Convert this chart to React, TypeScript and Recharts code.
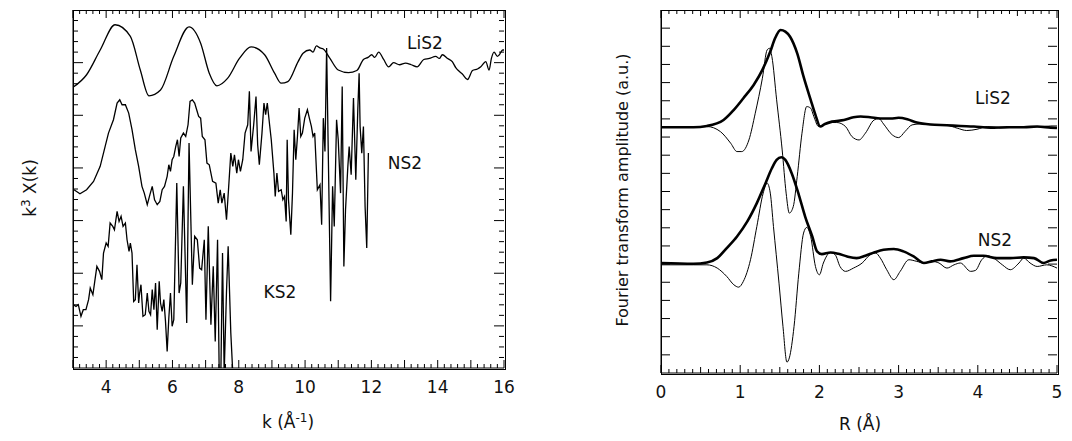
import { LineChart, Line, XAxis, YAxis } from 'recharts';

const FONT = '"DejaVu Sans", Verdana, sans-serif';

// left panel: k^3 chi(k), offset curves (y in arbitrary units)
const kLabels = [4, 6, 8, 10, 12, 14, 16];
const chiMajor = [4, 9, 14, 19, 24, 29];

const lis2Chi: [number, number][] = [
  [3.01, 26.68], [3.41, 27.85], [3.82, 30.2], [4.27, 32.6], [4.73, 31.5], [5.03, 28.3], [5.29, 25.85],
  [5.64, 26.4], [6.04, 29.6], [6.5, 32.4], [6.85, 30.85], [7.11, 28.0], [7.34, 26.8], [7.66, 27.5],
  [8.02, 29.4], [8.37, 30.5], [8.78, 29.75], [9.08, 28.0], [9.28, 27.05], [9.48, 27.2], [9.79, 29.1],
  [9.94, 29.9], [10.14, 30.2], [10.24, 30.0], [10.34, 30.6], [10.45, 30.4], [10.55, 30.3], [10.75, 29.4],
  [11.0, 28.3], [11.31, 28.05], [11.56, 28.25], [11.76, 29.3], [11.9, 29.5], [12.01, 29.75], [12.1, 29.5],
  [12.22, 30.0], [12.37, 29.3], [12.52, 28.6], [12.67, 29.0], [12.85, 28.8], [13.03, 28.95], [13.2, 28.8],
  [13.38, 28.6], [13.58, 29.3], [13.75, 29.4], [13.94, 29.6], [14.05, 29.4], [14.14, 29.75], [14.3, 29.4],
  [14.44, 29.1], [14.55, 28.5], [14.64, 28.2], [14.75, 27.9], [14.9, 27.4], [15.05, 28.25], [15.2, 28.4],
  [15.3, 28.6], [15.45, 29.1], [15.55, 28.3], [15.62, 29.4], [15.7, 30.0], [15.8, 29.6], [15.86, 29.75],
  [15.96, 30.2], [16.0, 30.2],
];

const ns2Chi: [number, number][] = [
  [3.03, 16.93], [3.21, 16.55], [3.41, 16.93], [3.62, 17.72], [3.82, 19.15], [3.97, 21.04], [4.07, 22.31],
  [4.22, 23.58], [4.33, 25.16], [4.41, 25.47], [4.48, 25.0], [4.58, 25.0], [4.68, 24.21], [4.78, 22.63],
  [4.88, 20.73], [4.98, 19.15], [5.08, 17.25], [5.15, 16.61], [5.24, 15.51], [5.32, 16.46], [5.39, 17.25],
  [5.46, 15.98], [5.54, 15.51], [5.62, 15.82], [5.69, 16.93], [5.76, 17.25], [5.84, 18.2], [5.89, 19.3],
  [5.94, 18.67], [5.99, 19.78], [6.04, 20.09], [6.1, 21.04], [6.15, 21.68], [6.2, 20.09], [6.25, 21.84],
  [6.33, 22.31], [6.4, 21.99], [6.47, 23.1], [6.53, 25.32], [6.6, 25.47], [6.67, 25.16], [6.73, 24.53],
  [6.79, 23.89], [6.85, 23.73], [6.9, 21.99], [6.98, 21.68], [7.04, 19.46], [7.11, 19.3], [7.21, 17.72],
  [7.31, 17.56], [7.38, 15.66], [7.44, 16.93], [7.49, 15.66], [7.56, 16.61], [7.63, 14.08], [7.69, 16.93],
  [7.76, 20.41], [7.82, 19.15], [7.87, 20.25], [7.94, 18.51], [7.99, 19.78], [8.05, 18.67], [8.12, 19.78],
  [8.19, 22.31], [8.27, 23.1], [8.32, 26.27], [8.37, 20.57], [8.45, 23.1], [8.52, 25.79], [8.57, 21.2],
  [8.62, 19.3], [8.7, 22.31], [8.76, 25.16], [8.81, 24.05], [8.86, 25.16], [8.93, 23.1], [8.98, 21.68],
  [9.06, 18.51], [9.1, 16.3], [9.15, 18.51], [9.2, 16.77], [9.28, 16.93], [9.33, 15.98], [9.38, 16.3],
  [9.43, 13.92], [9.46, 21.68], [9.5, 15.98], [9.57, 12.66], [9.62, 16.61], [9.67, 22.63], [9.72, 19.78],
  [9.77, 21.99], [9.82, 24.68], [9.87, 21.99], [9.92, 22.31], [9.99, 23.73], [10.07, 24.53], [10.14, 23.58],
  [10.19, 22.94], [10.24, 21.99], [10.29, 22.31], [10.37, 16.93], [10.45, 17.41], [10.5, 13.61],
  [10.55, 23.73], [10.6, 20.57], [10.65, 30.38], [10.77, 6.33], [10.83, 17.25], [10.88, 13.45],
  [10.95, 23.58], [11.0, 21.68], [11.07, 16.61], [11.12, 26.74], [11.17, 9.65], [11.22, 15.03],
  [11.29, 19.15], [11.33, 21.04], [11.39, 18.35], [11.46, 25.63], [11.53, 17.88], [11.59, 24.53],
  [11.63, 28.0], [11.66, 22.94], [11.71, 20.41], [11.76, 22.94], [11.81, 15.35], [11.86, 11.39], [11.91, 20.41],
];

const ks2Chi: [number, number][] = [
  [3.01, 6.01], [3.09, 5.85], [3.16, 6.01], [3.24, 4.91], [3.31, 5.54], [3.39, 5.54], [3.47, 6.49],
  [3.52, 7.59], [3.6, 6.96], [3.67, 8.54], [3.72, 9.65], [3.8, 9.18], [3.87, 8.39], [3.92, 10.92],
  [4.0, 11.87], [4.06, 11.55], [4.12, 13.77], [4.2, 13.45], [4.25, 13.13], [4.33, 14.87], [4.39, 13.92],
  [4.45, 14.4], [4.51, 13.45], [4.58, 13.77], [4.63, 12.18], [4.69, 11.08], [4.73, 11.87], [4.78, 10.92],
  [4.83, 6.33], [4.88, 6.49], [4.93, 9.81], [4.98, 6.17], [5.01, 7.12], [5.05, 7.91], [5.11, 4.91],
  [5.18, 5.06], [5.24, 7.12], [5.29, 5.38], [5.34, 5.06], [5.39, 7.44], [5.44, 5.54], [5.49, 8.07],
  [5.54, 3.64], [5.6, 8.23], [5.64, 6.17], [5.69, 5.38], [5.74, 6.49], [5.79, 4.43], [5.84, 1.58],
  [5.89, 4.75], [5.94, 7.12], [5.99, 3.96], [6.04, 4.59], [6.13, 17.56], [6.2, 7.12], [6.25, 8.07],
  [6.33, 17.25], [6.43, 4.27], [6.5, 21.36], [6.6, 7.91], [6.67, 12.5], [6.75, 12.18], [6.82, 9.49],
  [6.88, 9.34], [6.96, 12.18], [7.01, 4.59], [7.08, 13.45], [7.16, 4.11], [7.23, 9.65], [7.29, 2.53],
  [7.36, 12.18], [7.41, -0.5], [7.46, -0.5], [7.51, 10.92], [7.56, -0.5], [7.63, 7.28], [7.68, 11.55],
  [7.76, 3.32], [7.82, -0.5],
];

// right panel: Fourier transform, magnitude (thick) and imaginary part (thin)
const rLabels = [0, 1, 2, 3, 4, 5];

const lis2Mag: [number, number][] = [
  [0, 13.54], [0.41, 13.54], [0.58, 13.61], [0.79, 13.94], [0.92, 14.5], [1.04, 15.14], [1.17, 15.87],
  [1.28, 16.7], [1.38, 17.71], [1.44, 18.44], [1.51, 18.9], [1.57, 18.81], [1.63, 18.53], [1.72, 17.61],
  [1.8, 16.33], [1.89, 15.05], [1.95, 14.22], [2.01, 13.58], [2.07, 13.72], [2.16, 13.85], [2.31, 13.94],
  [2.43, 14.09], [2.52, 14.13], [2.64, 14.09], [2.77, 14.02], [2.9, 14.02], [3.0, 14.06], [3.11, 13.98],
  [3.23, 13.8], [3.4, 13.69], [3.61, 13.65], [3.78, 13.61], [3.95, 13.58], [4.16, 13.52], [4.37, 13.54],
  [4.58, 13.54], [4.75, 13.58], [4.92, 13.52], [5.0, 13.5],
];

const lis2Im: [number, number][] = [
  [0, 13.54], [0.41, 13.54], [0.58, 13.58], [0.75, 13.3], [0.88, 12.66], [0.96, 12.2], [1.02, 12.2],
  [1.11, 12.84], [1.19, 14.31], [1.28, 16.24], [1.34, 17.8], [1.37, 17.89], [1.4, 17.43], [1.46, 15.05],
  [1.53, 12.29], [1.58, 9.91], [1.62, 8.81], [1.67, 9.17], [1.72, 10.83], [1.78, 13.21], [1.84, 14.68],
  [1.89, 14.59], [1.93, 14.13], [1.99, 13.58], [2.05, 13.67], [2.14, 13.8], [2.22, 13.8], [2.33, 13.58],
  [2.41, 13.03], [2.5, 12.84], [2.58, 13.21], [2.69, 13.94], [2.75, 14.02], [2.81, 13.72], [2.92, 13.12],
  [3.0, 12.97], [3.08, 13.3], [3.17, 13.67], [3.27, 13.72], [3.44, 13.69], [3.61, 13.65], [3.74, 13.49],
  [3.86, 13.36], [3.99, 13.43], [4.12, 13.58], [4.28, 13.5], [4.45, 13.54], [4.62, 13.58], [4.79, 13.56],
  [4.92, 13.61], [5.0, 13.61],
];

const ns2Mag: [number, number][] = [
  [0, 6.06], [0.41, 6.02], [0.58, 6.09], [0.71, 6.33], [0.83, 6.88], [0.96, 7.52], [1.09, 8.35],
  [1.21, 9.36], [1.32, 10.46], [1.4, 11.28], [1.46, 11.74], [1.52, 11.89], [1.57, 11.74], [1.65, 11.01],
  [1.74, 9.82], [1.82, 8.62], [1.91, 7.52], [1.97, 6.7], [2.03, 6.55], [2.14, 6.64], [2.24, 6.57],
  [2.35, 6.42], [2.47, 6.33], [2.58, 6.46], [2.69, 6.64], [2.81, 6.79], [2.94, 6.83], [3.06, 6.7],
  [3.19, 6.42], [3.32, 6.06], [3.42, 6.15], [3.53, 6.24], [3.65, 6.15], [3.82, 6.33], [3.95, 6.46],
  [4.07, 6.46], [4.24, 6.33], [4.41, 6.33], [4.58, 6.37], [4.71, 6.33], [4.83, 6.06], [4.92, 6.2], [5.0, 6.24],
];

const ns2Im: [number, number][] = [
  [0, 5.96], [0.41, 5.96], [0.58, 5.96], [0.71, 5.78], [0.83, 5.32], [0.92, 4.86], [0.98, 4.73],
  [1.04, 5.05], [1.13, 6.24], [1.21, 8.07], [1.29, 9.91], [1.34, 10.46], [1.38, 9.91], [1.42, 8.07],
  [1.49, 4.95], [1.54, 2.57], [1.59, 0.6], [1.62, 0.83], [1.68, 2.57], [1.74, 5.5], [1.8, 7.71],
  [1.84, 8.02], [1.89, 7.52], [1.95, 5.87], [2.0, 5.41], [2.05, 6.06], [2.14, 6.64], [2.2, 6.51],
  [2.26, 5.87], [2.33, 5.6], [2.43, 5.78], [2.54, 6.06], [2.64, 6.51], [2.71, 6.61], [2.77, 6.33],
  [2.85, 5.69], [2.94, 5.14], [3.02, 5.6], [3.13, 6.24], [3.23, 6.15], [3.32, 6.06], [3.42, 6.15],
  [3.51, 6.06], [3.61, 5.78], [3.7, 5.96], [3.78, 6.06], [3.91, 5.6], [3.97, 5.65], [4.05, 6.24],
  [4.12, 6.46], [4.2, 6.33], [4.31, 5.96], [4.41, 5.69], [4.52, 6.06], [4.58, 6.33], [4.66, 6.06],
  [4.75, 5.87], [4.87, 5.96], [5.0, 5.78],
];

const pts = (arr: [number, number][]) => arr.map(([x, y]) => ({ x, y }));
const steps = (from: number, to: number, step: number) =>
  Array.from({ length: Math.round((to - from) / step) + 1 }, (_, i) => Math.round((from + i * step) * 100) / 100);
const near = (v: number, step: number) => Math.abs(v / step - Math.round(v / step)) < 1e-6;

const kTicks = steps(3, 16, 0.2);
const chiTicks = steps(1, 33, 1);
const rTicks = steps(0, 5, 0.1);
const ftTicks = steps(1, 19, 1);

// ticks point inward and are mirrored on the opposite side of the frame (span = plot size)
function xTick(lenOf: (v: number) => number, span: number, labels: number[]) {
  return (props: any) => {
    const { x, y, payload } = props;
    const v = payload.value as number;
    const len = lenOf(v);
    const show = labels.some((l) => Math.abs(l - v) < 1e-6);
    return (
      <g>
        <path d={`M${x},${y}V${y - len}M${x},${y - span}V${y - span + len}`} stroke="#000" fill="none" />
        {show && (
          <text x={x} y={y + 25} textAnchor="middle" fontFamily={FONT} fontSize={17} fill="#111">
            {v}
          </text>
        )}
      </g>
    );
  };
}

function yTick(lenOf: (v: number) => number, span: number) {
  return (props: any) => {
    const { x, y, payload } = props;
    const len = lenOf(payload.value as number);
    return <path d={`M${x},${y}H${x + len}M${x + span},${y}H${x + span - len}`} stroke="#000" fill="none" />;
  };
}

const kLen = (v: number) => (near(v, 1) ? 8 : 4);
const chiLen = (v: number) => (chiMajor.includes(v) ? 10 : 5);
const rLen = (v: number) => (near(v, 1) ? 8 : near(v, 0.5) ? 6 : 4);
const ftLen = () => 9;

const label = (text: any, left: number, top: number, size = 17, rotate = false) => (
  <div
    style={{
      position: 'absolute',
      left,
      top,
      transform: `translate(-50%, -50%)${rotate ? ' rotate(-90deg)' : ''}`,
      fontFamily: FONT,
      fontSize: size,
      color: '#111',
      whiteSpace: 'nowrap',
    }}
  >
    {text}
  </div>
);

const frame = (left: number, top: number, width: number, height: number) => (
  <div
    style={{
      position: 'absolute',
      left: left - 0.5,
      top: top - 0.5,
      width,
      height,
      border: '1px solid #000',
      pointerEvents: 'none',
    }}
  />
);

export default function App() {
  return (
    <div style={{ position: 'absolute', left: 0, top: 0, width: 1072, height: 441, background: '#fff' }}>
      <div style={{ position: 'absolute', left: 0, top: 0 }}>
        <LineChart width={540} height={441} margin={{ top: 10, right: 36, bottom: 72, left: 72 }}>
          <XAxis dataKey="x" type="number" domain={[3, 16]} allowDataOverflow ticks={kTicks} interval={0}
            height={1} tickSize={0} tickMargin={0} tickLine={false} stroke="#000"
            tick={xTick(kLen, 358, kLabels)} />
          <YAxis type="number" domain={[0, 34]} allowDataOverflow ticks={chiTicks} interval={0}
            width={1} tickSize={0} tickMargin={0} tickLine={false} stroke="#000" tick={yTick(chiLen, 431)} />
          <Line data={pts(lis2Chi)} dataKey="y" type="monotone" stroke="#000" strokeWidth={1.3} dot={false} isAnimationActive={false} />
          <Line data={pts(ns2Chi)} dataKey="y" type="linear" stroke="#000" strokeWidth={1.3} dot={false} isAnimationActive={false} />
          <Line data={pts(ks2Chi)} dataKey="y" type="linear" stroke="#000" strokeWidth={1.3} dot={false} isAnimationActive={false} />
        </LineChart>
      </div>
      <div style={{ position: 'absolute', left: 540, top: 0 }}>
        <LineChart width={532} height={441} margin={{ top: 10, right: 15, bottom: 67, left: 120 }}>
          <XAxis dataKey="x" type="number" domain={[0, 5]} allowDataOverflow ticks={rTicks} interval={0}
            height={1} tickSize={0} tickMargin={0} tickLine={false} stroke="#000"
            tick={xTick(rLen, 363, rLabels)} />
          <YAxis type="number" domain={[0, 20]} allowDataOverflow ticks={ftTicks} interval={0}
            width={1} tickSize={0} tickMargin={0} tickLine={false} stroke="#000" tick={yTick(ftLen, 396)} />
          <Line data={pts(lis2Im)} dataKey="y" type="monotone" stroke="#000" strokeWidth={1} dot={false} isAnimationActive={false} />
          <Line data={pts(lis2Mag)} dataKey="y" type="monotone" stroke="#000" strokeWidth={2.6} dot={false} isAnimationActive={false} />
          <Line data={pts(ns2Im)} dataKey="y" type="monotone" stroke="#000" strokeWidth={1} dot={false} isAnimationActive={false} />
          <Line data={pts(ns2Mag)} dataKey="y" type="monotone" stroke="#000" strokeWidth={2.6} dot={false} isAnimationActive={false} />
        </LineChart>
      </div>
      {frame(73, 10, 431, 358)}
      {frame(661, 10, 396, 363)}
      {label(<span>k<sup style={{ fontSize: 12 }}>3</sup> X(k)</span>, 29, 188, 17, true)}
      {label(<span>k (Å<sup style={{ fontSize: 12 }}>-1</sup>)</span>, 288, 421, 17)}
      {label('Fourier transform amplitude (a.u.)', 622, 190, 16, true)}
      {label('R (Å)', 860, 424, 17)}
      {label('LiS2', 425, 43)}
      {label('NS2', 405, 163)}
      {label('KS2', 280, 292)}
      {label('LiS2', 993, 98)}
      {label('NS2', 995, 240)}
    </div>
  );
}
